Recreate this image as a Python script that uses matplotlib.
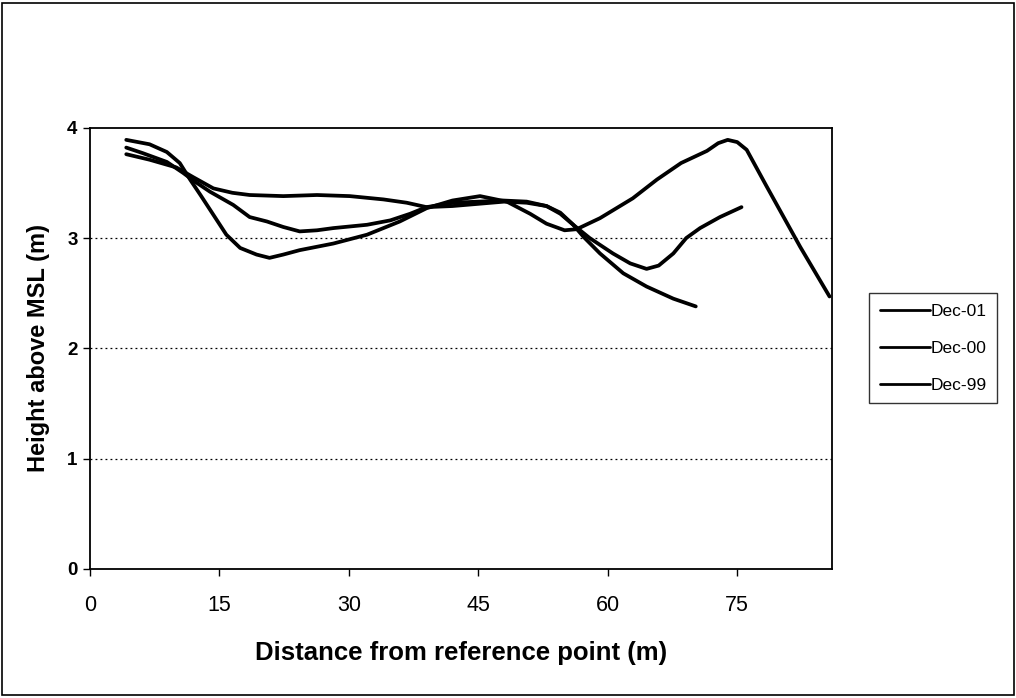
import matplotlib
matplotlib.use("Agg")
import matplotlib.pyplot as plt
from matplotlib.patches import Rectangle

plt.rcParams['font.family'] = ['Liberation Sans', 'DejaVu Sans']

# profile readings (distance m, height m)
dec01_x = [4.2, 6.9, 8.9, 10.4, 11.6, 12.8, 14.3, 15.8, 17.4, 19.3, 20.8, 22.4, 24.3, 28.2,
           32.1, 35.9, 39.0, 42.0, 45.2, 48.3, 51.0, 52.9, 55.0, 56.4, 59.1, 62.9, 65.7,
           68.5, 71.5, 72.8, 73.9, 75.0, 76.1, 78.4, 82.3, 85.7]
dec01_y = [3.89, 3.85, 3.78, 3.68, 3.53, 3.39, 3.21, 3.03, 2.91, 2.85, 2.82, 2.85, 2.89, 2.95,
           3.03, 3.15, 3.27, 3.34, 3.38, 3.33, 3.22, 3.13, 3.07, 3.08, 3.18, 3.36, 3.53,
           3.68, 3.79, 3.86, 3.89, 3.87, 3.80, 3.47, 2.92, 2.47]

dec00_x = [4.2, 6.1, 8.9, 10.8, 12.0, 13.9, 16.6, 18.5, 20.5, 22.4, 24.3, 26.3, 28.2, 32.1,
           34.8, 37.1, 39.0, 42.1, 45.0, 47.9, 50.6, 52.9, 54.5, 56.0, 57.9, 60.6, 62.6,
           64.5, 65.9, 67.6, 69.1, 70.7, 73.0, 75.5]
dec00_y = [3.82, 3.77, 3.69, 3.59, 3.52, 3.42, 3.30, 3.19, 3.15, 3.10, 3.06, 3.07, 3.09, 3.12,
           3.16, 3.22, 3.28, 3.32, 3.33, 3.34, 3.33, 3.29, 3.23, 3.12, 3.00, 2.86, 2.77,
           2.72, 2.75, 2.86, 3.00, 3.09, 3.19, 3.28]

dec99_x = [4.2, 6.9, 10.0, 12.0, 14.3, 16.5, 18.5, 22.4, 26.3, 30.1, 34.0, 36.7, 39.0, 42.0,
           45.0, 48.0, 50.6, 52.9, 54.5, 56.0, 57.2, 59.1, 61.8, 64.5, 67.6, 70.2]
dec99_y = [3.76, 3.71, 3.64, 3.55, 3.45, 3.41, 3.39, 3.38, 3.39, 3.38, 3.35, 3.32, 3.28, 3.29,
           3.31, 3.33, 3.32, 3.29, 3.22, 3.12, 3.01, 2.86, 2.68, 2.56, 2.45, 2.38]

labels = ['Dec-01', 'Dec-00', 'Dec-99']
xticks = [0, 15, 30, 45, 60, 75]
yticks = [0, 1, 2, 3, 4]

fig = plt.figure(figsize=(10.16, 6.98), dpi=100)
ax = fig.add_axes([0.0886, 0.185, 0.7304, 0.632])

for xs, ys, lab in zip([dec01_x, dec00_x, dec99_x], [dec01_y, dec00_y, dec99_y], labels):
    ax.plot(xs, ys, color='black', lw=2.7, label=lab, solid_capstyle='round')

ax.set_xlim(0, 86)
ax.set_ylim(0, 4)
ax.set_xticks(xticks)
ax.set_yticks(yticks)
ax.tick_params(axis='x', direction='out', length=5, width=1, labelsize=15.5, pad=14)
ax.tick_params(axis='y', direction='out', length=5, width=1, labelsize=13.5, pad=4)
for t in ax.get_yticklabels():
    t.set_fontweight('bold')
for y in [1, 2, 3]:
    ax.axhline(y, color='black', lw=0.9, ls=(0, (1.5, 2.5)), zorder=0)
for s in ax.spines.values():
    s.set_color('black')
    s.set_linewidth(1.3)

ax.set_xlabel('Distance from reference point (m)', fontsize=18.5, fontweight='bold', labelpad=18)
ax.set_ylabel('Height above MSL (m)', fontsize=17, fontweight='bold', labelpad=12)

leg = ax.legend(loc='center left', bbox_to_anchor=(1.05, 0.5), frameon=True, fancybox=False,
                edgecolor='black', fontsize=12.5, handlelength=2.9, handletextpad=0.05,
                borderpad=0.6, labelspacing=1.25, borderaxespad=0)
leg.get_frame().set_linewidth(1.0)
for h in leg.get_lines():
    h.set_linewidth(2.0)

fig.patches.append(Rectangle((0.002, 0.004), 0.996, 0.992, transform=fig.transFigure,
                             fill=False, edgecolor='black', lw=1.2))

fig.savefig('out.png', dpi=100)
